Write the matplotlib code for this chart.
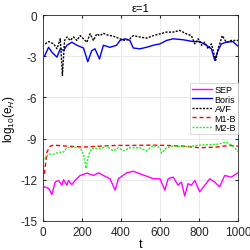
import matplotlib
matplotlib.use("Agg")
import matplotlib.pyplot as plt
import numpy as np

plt.rcParams["font.family"] = ["Liberation Sans", "DejaVu Sans"]
plt.rcParams["axes.unicode_minus"] = False
plt.rcParams["mathtext.fontset"] = "custom"
plt.rcParams["mathtext.rm"] = "Liberation Sans"
plt.rcParams["mathtext.it"] = "Liberation Sans:italic"

# data (t, log10 of energy error)
t_boris = [8, 29, 46, 72, 89, 106, 123, 148, 174, 208, 230, 250, 267, 290, 310, 344, 378, 395,
           421, 446, 463, 497, 531, 566, 600, 634, 668, 719, 770, 804, 838, 864, 881, 898, 915,
           940, 974, 1000]
e_boris = [-3.0, -2.35, -2.7, -3.07, -2.46, -2.58, -2.2, -1.98, -2.2, -2.4, -3.4, -2.6, -2.46,
           -3.2, -2.2, -2.35, -2.2, -1.85, -1.73, -1.85, -2.4, -2.46, -2.35, -2.2, -2.1, -1.85,
           -1.73, -1.8, -1.93, -1.93, -2.2, -2.46, -3.3, -2.58, -2.1, -1.98, -1.93, -2.27]

t_avf = [12, 29, 55, 72, 89, 100, 111, 123, 140, 157, 174, 191, 208, 225, 242, 259, 276, 293,
         310, 327, 361, 395, 421, 446, 463, 497, 531, 566, 600, 634, 668, 702, 736, 761, 779,
         796, 813, 830, 847, 864, 886, 898, 920, 940, 966, 1000]
e_avf = [-2.1, -1.93, -2.1, -2.46, -1.73, -4.4, -1.85, -1.6, -1.85, -1.6, -1.85, -1.5, -1.73,
         -1.98, -1.37, -1.85, -1.37, -1.5, -1.32, -1.44, -1.54, -1.73, -1.85, -1.73, -1.5, -1.6,
         -1.68, -1.5, -1.37, -1.24, -1.24, -1.12, -1.37, -1.5, -2.1, -1.73, -2.2, -1.98, -2.46,
         -2.1, -3.3, -2.46, -1.5, -1.98, -1.85, -1.85]

t_m1 = [8, 20, 37, 55, 123, 208, 293, 378, 463, 548, 634, 719, 804, 889, 957, 1000]
e_m1 = [-11.57, -10.0, -9.55, -9.48, -9.55, -9.62, -9.55, -9.5, -9.5, -9.48, -9.5, -9.55,
        -9.67, -9.62, -9.5, -9.55]

t_m2 = [8, 29, 55, 80, 106, 123, 157, 191, 208, 221, 233, 250, 293, 327, 361, 387, 412, 446,
        497, 531, 566, 600, 608, 634, 668, 736, 804, 889, 940, 974, 1000]
e_m2 = [-10.5, -10.14, -10.14, -10.0, -9.98, -9.67, -9.62, -9.67, -10.14, -11.17, -10.26,
        -9.71, -9.74, -9.55, -9.9, -9.67, -9.9, -9.67, -9.67, -9.9, -9.5, -9.67, -10.07, -9.67,
        -9.55, -9.6, -9.48, -9.43, -9.26, -9.55, -9.95]

t_sep = [8, 29, 46, 63, 80, 97, 106, 123, 131, 148, 165, 191, 225, 259, 286, 310, 344, 370,
         387, 429, 463, 497, 531, 566, 600, 625, 642, 668, 693, 710, 727, 744, 761, 779, 804,
         830, 855, 881, 906, 932, 966, 1000]
e_sep = [-12.52, -12.64, -13.07, -12.17, -12.05, -12.4, -12.0, -12.4, -12.05, -12.36, -12.05,
         -11.69, -11.52, -11.69, -11.5, -11.69, -11.93, -12.76, -11.93, -11.5, -11.38, -11.57,
         -11.74, -11.93, -11.93, -12.76, -11.93, -11.81, -12.4, -12.17, -13.19, -12.29, -12.4,
         -12.05, -12.88, -12.4, -11.93, -12.17, -12.52, -11.69, -11.81, -11.5]

fig = plt.figure(figsize=(2.51, 2.51), dpi=100)
ax = fig.add_axes([0.171, 0.116, 0.777, 0.82])

ax.plot(t_sep, e_sep, color="#ff00ff", lw=1, label="SEP")
ax.plot(t_boris, e_boris, color="#0000ff", lw=1, label="Boris")
ax.plot(t_avf, e_avf, color="black", lw=1, ls=(0, (1.5, 1)), label="AVF")
ax.plot(t_m1, e_m1, color="#ff0000", lw=1, ls=(0, (3, 2)), label="M1-B")
ax.plot(t_m2, e_m2, color="#22ee22", lw=1, ls=(0, (1.5, 1)), label="M2-B")

ax.set_xlim(0, 1000)
ax.set_ylim(-15, 0)
ax.set_xticks([0, 200, 400, 600, 800, 1000])
ax.set_yticks([-15, -12, -9, -6, -3, 0])
ax.grid(True, color="#e6e6e6", lw=0.6)
ax.set_axisbelow(True)
ax.tick_params(labelsize=8.5, length=2, direction="in", pad=4, colors="#262626",
               right=True, top=True)
for s in ax.spines.values():
    s.set_linewidth(0.6)
    s.set_color("#262626")

ax.set_xlabel("t", fontsize=9, labelpad=0)
ax.set_ylabel("log$_{10}$(e$_H$)", fontsize=8.5, labelpad=2)
ax.set_title("\u03b5=1", fontsize=8, pad=3)

leg = ax.legend(loc="upper right", bbox_to_anchor=(1.0, 0.668), fontsize=6.5,
                handlelength=2.2, handletextpad=0.3, borderpad=0.2, labelspacing=0.05,
                borderaxespad=0, fancybox=False, framealpha=1, edgecolor="#cccccc")
leg.get_frame().set_linewidth(0.5)

fig.savefig("out.png", dpi=100)
